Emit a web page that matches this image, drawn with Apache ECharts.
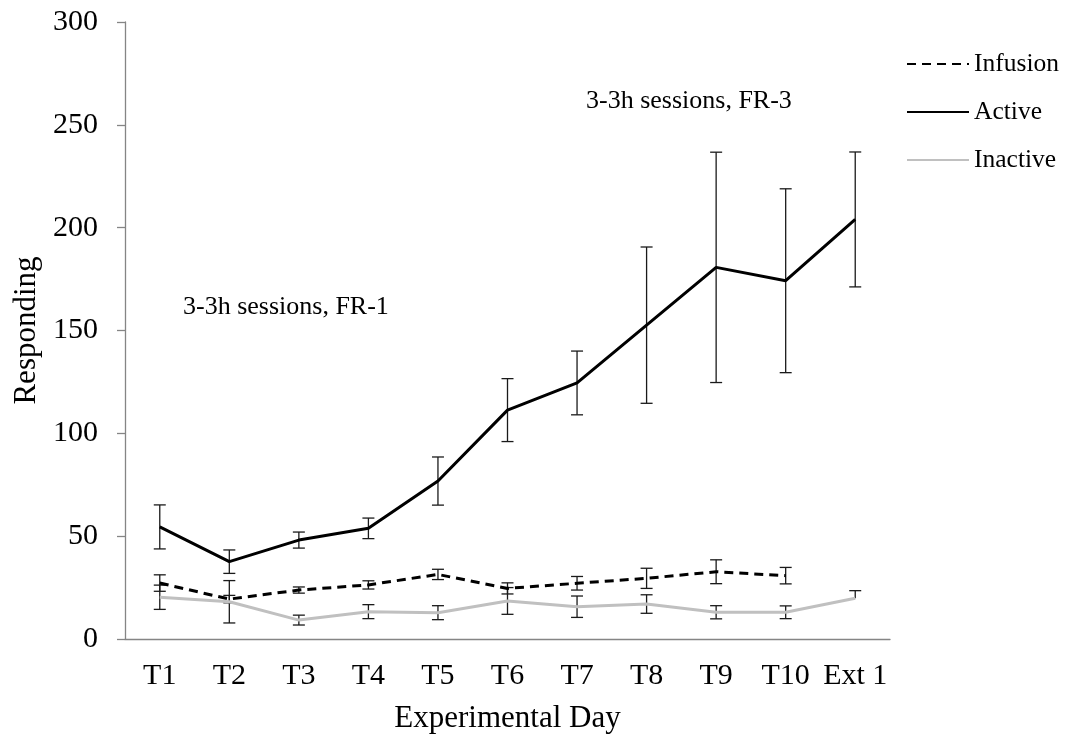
<!DOCTYPE html>
<html>
<head>
<meta charset="utf-8">
<script src="https://cdn.jsdelivr.net/npm/echarts@6/dist/echarts.min.js"></script>
<style>html,body{margin:0;padding:0;background:#fff}#c{width:1065px;height:740px}</style>
</head>
<body>
<div id="c"></div>
<script>
const categories = ['T1','T2','T3','T4','T5','T6','T7','T8','T9','T10','Ext 1'];
const active = [54.5, 37.6, 48.1, 53.8, 76.8, 111.3, 124.5, 152.6, 180.7, 174.2, 204.0];
const activeErr = [10.7, 5.7, 3.9, 5.0, 11.7, 15.3, 15.5, 38.0, 56.0, 44.7, 32.8];
const infusion = [27.2, 19.4, 23.8, 26.3, 31.4, 24.6, 27.1, 29.5, 32.7, 30.8, null];
const infusionErr = [4.0, 1.8, 1.5, 2.0, 2.5, 2.7, 3.3, 4.9, 5.8, 4.0, null];
const inactive = [20.3, 18.1, 9.2, 13.3, 12.8, 18.5, 15.7, 17.0, 13.0, 13.0, 19.8];
const inactiveErrUp = [5.9, 10.3, 2.4, 3.4, 3.4, 6.5, 5.2, 4.5, 3.2, 3.1, 3.7];
const inactiveErrDown = [5.9, 10.3, 2.4, 3.4, 3.4, 6.5, 5.2, 4.5, 3.2, 3.1, 0];
const yTicks = [0, 50, 100, 150, 200, 250, 300];

const FONT = '"Liberation Serif", "Times New Roman", serif';

function errData(vals, up, down) {
  const out = [];
  vals.forEach((v, i) => {
    if (v == null) return;
    out.push([i, v - down[i], v + up[i], v]);
  });
  return out;
}

function errRender(params, api) {
  const x = api.value(0), lo = api.value(1), hi = api.value(2), m = api.value(3);
  const top = api.coord([x, hi]);
  const bot = api.coord([x, lo]);
  const hw = 6;
  const st = {stroke: '#1a1a1a', lineWidth: 1.3};
  const children = [
    {type: 'line', shape: {x1: top[0], y1: top[1], x2: bot[0], y2: bot[1]}, style: st},
    {type: 'line', shape: {x1: top[0] - hw, y1: top[1], x2: top[0] + hw, y2: top[1]}, style: st}
  ];
  if (lo < m) {
    children.push({type: 'line', shape: {x1: bot[0] - hw, y1: bot[1], x2: bot[0] + hw, y2: bot[1]}, style: st});
  }
  return {type: 'group', children: children};
}

const chart = echarts.init(document.getElementById('c'), null, {renderer: 'canvas'});
chart.setOption({
  animation: false,
  backgroundColor: '#fff',
  grid: {left: 125, right: 175, top: 22, bottom: 101, containLabel: false},
  legend: {
    data: ['Infusion', 'Active', 'Inactive'],
    orient: 'vertical',
    left: 901,
    top: 46,
    itemWidth: 62,
    itemHeight: 2,
    itemGap: 22,
    textStyle: {fontFamily: FONT, fontSize: 25.5, color: '#000', lineHeight: 25}
  },
  xAxis: {
    type: 'category',
    data: categories,
    boundaryGap: true,
    name: 'Experimental Day',
    nameLocation: 'middle',
    nameGap: 64,
    nameTextStyle: {fontFamily: FONT, fontSize: 31, color: '#000'},
    axisLine: {lineStyle: {color: '#858585', width: 1.3}},
    axisTick: {alignWithLabel: true, length: 8, lineStyle: {color: '#858585', width: 1.3}},
    axisLabel: {interval: 0, fontFamily: FONT, fontSize: 30, color: '#000', margin: 22}
  },
  yAxis: {
    type: 'value',
    min: yTicks[0],
    max: yTicks[yTicks.length - 1],
    interval: 50,
    name: 'Responding',
    nameLocation: 'middle',
    nameGap: 82,
    nameTextStyle: {fontFamily: FONT, fontSize: 31, color: '#000'},
    axisLine: {show: true, lineStyle: {color: '#858585', width: 1.3}},
    axisTick: {show: true, length: 8, lineStyle: {color: '#858585', width: 1.3}},
    splitLine: {show: false},
    axisLabel: {fontFamily: FONT, fontSize: 30, color: '#000', margin: 27}
  },
  graphic: [
    {type: 'text', left: 183, top: 294, style: {text: '3-3h sessions, FR-1', font: '26px ' + FONT, fill: '#000'}},
    {type: 'text', left: 586, top: 88, style: {text: '3-3h sessions, FR-3', font: '26px ' + FONT, fill: '#000'}}
  ],
  series: [
    {type: 'custom', renderItem: errRender, data: errData(active, activeErr, activeErr), encode: {x: 0, y: [1, 2]}, z: 1, silent: true},
    {type: 'custom', renderItem: errRender, data: errData(infusion, infusionErr, infusionErr), encode: {x: 0, y: [1, 2]}, z: 1, silent: true},
    {type: 'custom', renderItem: errRender, data: errData(inactive, inactiveErrUp, inactiveErrDown), encode: {x: 0, y: [1, 2]}, z: 1, silent: true},
    {name: 'Infusion', type: 'line', data: infusion, symbol: 'none', z: 3,
      lineStyle: {color: '#000', width: 3, type: [9, 6]}, itemStyle: {color: '#000'}},
    {name: 'Active', type: 'line', data: active, symbol: 'none', z: 3,
      lineStyle: {color: '#000', width: 3}, itemStyle: {color: '#000'}},
    {name: 'Inactive', type: 'line', data: inactive, symbol: 'none', z: 2,
      lineStyle: {color: '#c0c0c0', width: 3}, itemStyle: {color: '#c0c0c0'}}
  ]
});
</script>
</body>
</html>
